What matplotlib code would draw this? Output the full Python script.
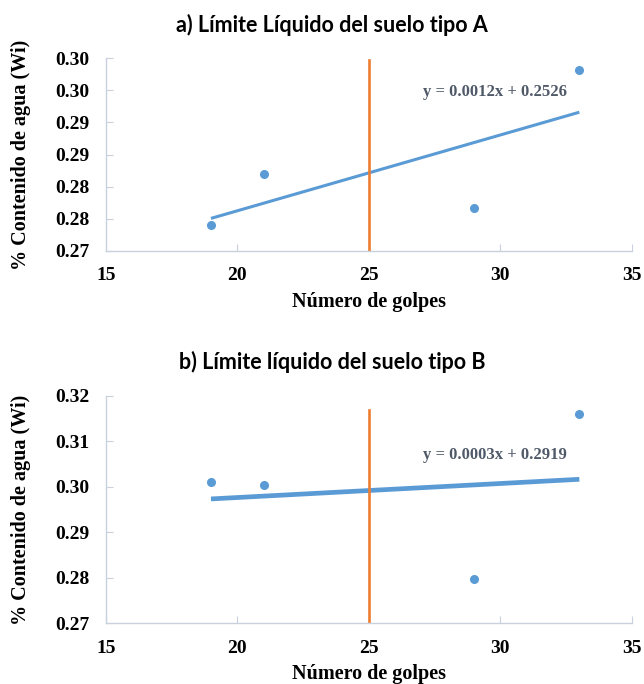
import numpy as np
import matplotlib
matplotlib.use("Agg")
import matplotlib.pyplot as plt

# Data
golpes = [19, 21, 29, 33]
wi_a = [0.2740, 0.2820, 0.2767, 0.2982]
wi_b = [0.3011, 0.3004, 0.2798, 0.3160]

eq_a = "y = 0.0012x + 0.2526"
eq_b = "y = 0.0003x + 0.2919"

# vertical reference line at 25 blows
lim_x = [25, 25]
lim_a = [0.27, 0.2997]
lim_b = [0.27, 0.3169]

xticks = [15, 20, 25, 30, 35]
yticks_a = [0.270, 0.275, 0.280, 0.285, 0.290, 0.295, 0.300]
ylabels_a = ["0.27", "0.28", "0.28", "0.29", "0.29", "0.30", "0.30"]
yticks_b = [0.27, 0.28, 0.29, 0.30, 0.31, 0.32]
ylabels_b = ["0.27", "0.28", "0.29", "0.30", "0.31", "0.32"]

BLUE = "#5B9BD5"
ORANGE = "#ED7D31"
AXIS = "#C9D1DD"
SERIF = "Liberation Serif"
W, H = 644, 684


def panel(fig, rect, title, title_y, y, yticks, ylabels, lim_y, eq, eq_pos, trend_lw):
    ax = fig.add_axes(rect)
    ax.plot(golpes, y, "o", color=BLUE, ms=5.5, zorder=3)

    slope, icpt = np.polyfit(golpes, y, 1)
    xs = np.array([min(golpes), max(golpes)])
    ax.plot(xs, slope * xs + icpt, color=BLUE, lw=trend_lw, solid_capstyle="butt",
            zorder=2)
    ax.plot(lim_x, lim_y, color=ORANGE, lw=1.9, zorder=2)

    ax.text(eq_pos[0], eq_pos[1], eq, ha="center", va="center", family=SERIF,
            weight="bold", fontsize=12, color="#4F5968")

    ax.set_xlim(xticks[0], xticks[-1])
    ax.set_ylim(yticks[0], yticks[-1])
    ax.set_xticks(xticks)
    ax.set_xticklabels([str(t) for t in xticks])
    ax.set_yticks(yticks)
    ax.set_yticklabels(ylabels)
    for lab in ax.get_xticklabels() + ax.get_yticklabels():
        lab.set_family(SERIF)
        lab.set_weight("bold")
        lab.set_fontsize(14)
    ax.tick_params(direction="in", length=5, width=0.8, color=AXIS, pad=12)

    for s in ("top", "right"):
        ax.spines[s].set_visible(False)
    for s in ("left", "bottom"):
        ax.spines[s].set_color(AXIS)
        ax.spines[s].set_linewidth(1.0)

    ax.set_xlabel("Número de golpes", family=SERIF, weight="bold", fontsize=14.5,
                  va="center")
    ax.set_ylabel("% Contenido de agua (Wi)", family=SERIF, weight="bold",
                  fontsize=14.5, va="center")
    h_px = rect[3] * H
    w_px = rect[2] * W
    ax.xaxis.set_label_coords(0.5, -51 / h_px)
    ax.yaxis.set_label_coords(-85 / w_px, 0.5)

    fig.text(332 / W, title_y, title, ha="center", va="center", family="Lato",
             weight="bold", fontsize=15.5)
    return ax


fig = plt.figure(figsize=(W / 100, H / 100), dpi=100)
fig.patch.set_facecolor("white")

left = 105.7 / W
width = (632 - 105.7) / W

panel(fig, [left, 1 - 250.7 / H, width, 192.4 / H],
      "a) Límite Líquido del suelo tipo A", 1 - 25 / H,
      wi_a, yticks_a, ylabels_a, lim_a, eq_a, (29.8, 0.2947), 2.2)

panel(fig, [left, 1 - 623.3 / H, width, 227.6 / H],
      "b) Límite líquido del suelo tipo B", 1 - 362 / H,
      wi_b, yticks_b, ylabels_b, lim_b, eq_b, (29.8, 0.3070), 3.4)

fig.savefig("out.png", dpi=100)
